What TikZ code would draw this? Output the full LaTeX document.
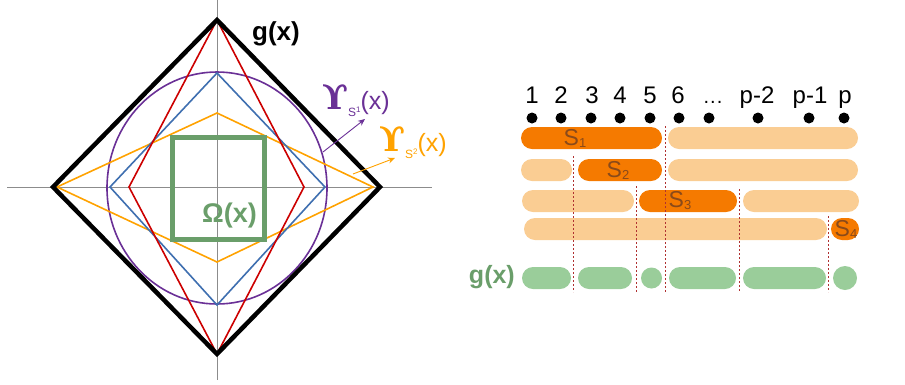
\documentclass[tikz,border=0pt]{standalone}
\usepackage{fontspec}
\setmainfont{Liberation Sans}
\newfontfamily\upsfont{DejaVu Serif}
\usetikzlibrary{arrows.meta}
\definecolor{axisgray}{HTML}{8C8C8C}
\definecolor{cred}{HTML}{CC0000}
\definecolor{cblue}{HTML}{3F6FB0}
\definecolor{corange}{HTML}{FFA200}
\definecolor{cpurple}{HTML}{6A3096}
\definecolor{cgreen}{HTML}{6A9E6A}
\definecolor{darkor}{HTML}{F57A00}
\definecolor{lightor}{HTML}{FACD93}
\definecolor{lightgreen}{HTML}{9ACD9A}
\definecolor{slabel}{HTML}{8A4A1A}
\definecolor{sepred}{HTML}{B03030}
\tikzset{
  axisline/.style={axisgray, line width=0.7pt},
  thinshape/.style={line width=1.6pt, line join=miter},
  darkbar/.style={fill=darkor, rounded corners=11pt},
  lightbar/.style={fill=lightor, rounded corners=11pt},
  greenbar/.style={fill=lightgreen, rounded corners=11pt},
  sepline/.style={sepred, dash pattern=on 2pt off 2pt, line width=1pt},
  numlabel/.style={font=\fontsize{24}{24}\selectfont, inner sep=0pt, anchor=base},
  dotnode/.style={circle, fill=black, minimum size=11pt, inner sep=0pt},
  slab/.style={text=slabel, font=\fontsize{23}{23}\selectfont, inner sep=0pt},
}
\newcommand{\subone}[1]{{\fontsize{13}{13}\selectfont\raisebox{-2pt}{#1}}}
\newcommand{\upslabel}[1]{{\upsfont\bfseries\fontsize{34}{34}\selectfont ϒ}{\fontsize{12}{12}\selectfont\raisebox{-7pt}{S\raisebox{4pt}{\fontsize{8}{8}\selectfont #1}}}{\fontsize{25}{25}\selectfont(x)}}
\begin{document}
\begin{tikzpicture}[x=1pt,y=-1pt]
\useasboundingbox (0,0) rectangle (905,384);
% ---------- left: axes
\draw[axisline] (7,187) -- (432,187);
\draw[axisline] (217,0) -- (217,380);
% curves
\draw[cpurple, line width=1.6pt] (217,188) ellipse [x radius=110, y radius=116];
\draw[corange, thinshape] (217,113) -- (373,187) -- (217,262) -- (57,187) -- cycle;
\draw[cblue, thinshape] (217,73) -- (325,187) -- (217,305) -- (110,187) -- cycle;
\draw[cred, thinshape] (217,20) -- (304,187) -- (217,354) -- (129,187) -- cycle;
\draw[cgreen, line width=5pt, line join=miter] (172,137) rectangle (264,239);
\draw[black, line width=4.5pt, line join=miter] (217,20) -- (380,187) -- (217,354) -- (53,187) -- cycle;
% labels
\node[anchor=west, inner sep=0pt, font=\bfseries\fontsize{26}{26}\selectfont] (gx) at (252,34) {g(x)};
\node[anchor=east, inner sep=0pt, text=cgreen, font=\bfseries\fontsize{27}{27}\selectfont] (om) at (257,216) {Ω(x)};
\node[anchor=west, inner sep=0pt, text=cpurple] (u1) at (322,100) {\upslabel{1}};
\node[anchor=west, inner sep=0pt, text=corange] (u2) at (379,142) {\upslabel{2}};
\coordinate (a1s) at (323,152);
\coordinate (a1e) at (365,119);
\coordinate (a2s) at (353,174);
\coordinate (a2e) at (395,158);
\draw[cpurple, line width=0.9pt, -{Stealth[length=7pt,width=6pt]}] (a1s) -- (a1e);
\draw[corange, line width=0.9pt, -{Stealth[length=7pt,width=6pt]}] (a2s) -- (a2e);
% ---------- right: indices
\foreach \nm/\x/\t in {n1/532/1, n2/561/2, n3/592/3, n4/620/4, n5/650/5, n6/678/6, n8/757/p-2, n9/810/p-1, n10/845/p}
  \node[numlabel] (\nm) at (\x,103) {\t};
\node[numlabel, font=\fontsize{20}{20}\selectfont] (n7) at (713,103) {.\kern1pt.\kern1pt.};
\foreach \nm/\x in {d1/532, d2/561, d3/591, d4/620, d5/650, d6/679, d7/709, d8/758, d9/809, d10/844}
  \node[dotnode] (\nm) at (\x,118) {};
% row 1
\fill[darkbar] (521,127) rectangle (662,149);
\fill[lightbar] (668,127) rectangle (858,149);
% row 2
\fill[lightbar] (521,159) rectangle (572,181);
\fill[darkbar] (578,159) rectangle (662,181);
\fill[lightbar] (668,159) rectangle (858,181);
% row 3
\fill[lightbar] (522,190) rectangle (634,212);
\fill[darkbar] (639,190) rectangle (737,212);
\fill[lightbar] (743,190) rectangle (859,212);
% row 4
\fill[lightbar] (524,218) rectangle (827,240);
\fill[darkbar] (831,218) rectangle (859,240);
% separators
\draw[sepline] (573,156) -- (573,292);
\draw[sepline] (636,186) -- (636,292);
\draw[sepline] (665,126) -- (665,292);
\draw[sepline] (739,189) -- (739,292);
\draw[sepline] (828,216) -- (828,292);
% set labels
\node[slab] (s1) at (575,138) {S\subone{1}};
\node[slab] (s2) at (618,170) {S\subone{2}};
\node[slab] (s3) at (680,201) {S\subone{3}};
\node[slab] (s4) at (846,229) {S\subone{4}};
% g(x) row
\node[anchor=east, inner sep=0pt, text=cgreen, font=\bfseries\fontsize{25}{25}\selectfont] (g2) at (515,277) {g(x)};
\fill[greenbar] (522,267) rectangle (571,289);
\fill[greenbar] (578,267) rectangle (632,289);
\fill[lightgreen] (651.5,278) circle (10.5);
\fill[greenbar] (669,267) rectangle (736,289);
\fill[greenbar] (743,267) rectangle (826,289);
\fill[lightgreen] (845,278) circle (12);
\end{tikzpicture}
\end{document}
